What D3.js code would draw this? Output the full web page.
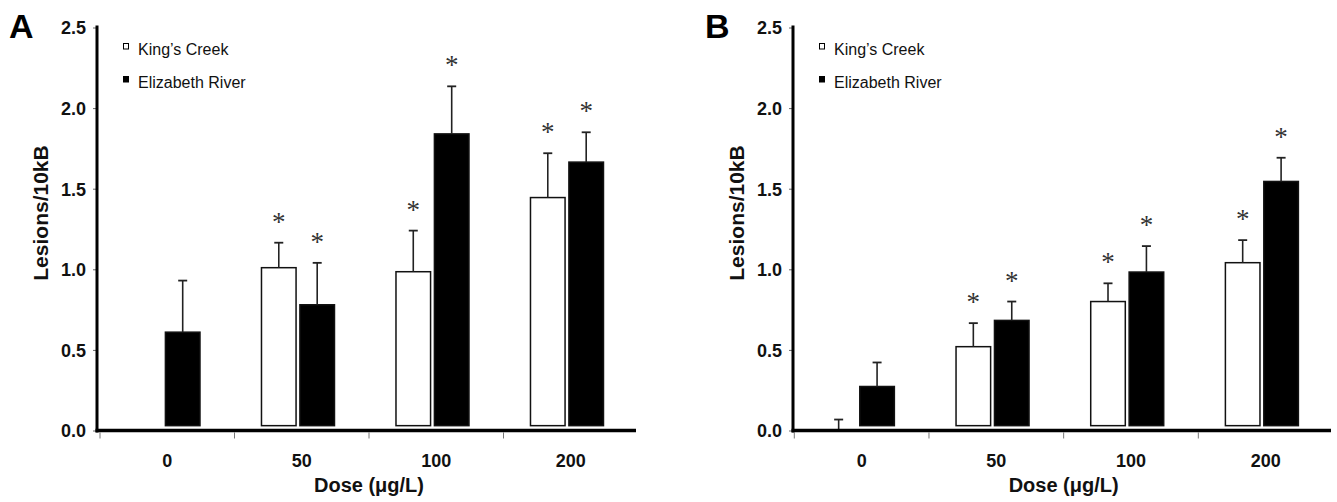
<!DOCTYPE html>
<html>
<head>
<meta charset="utf-8">
<script src="https://cdn.jsdelivr.net/npm/d3@7"></script>
<style>
  html, body { margin: 0; padding: 0; background: #fff; }
  svg { display: block; font-family: "Liberation Sans", Arial, sans-serif; }
</style>
</head>
<body>
<svg id="chart" width="1337" height="502"></svg>
<script>
// ---- data ----
const doses = ["0", "50", "100", "200"];
const seriesNames = ["King\u2019s Creek", "Elizabeth River"];
const yTicks = [0, 0.5, 1.0, 1.5, 2.0, 2.5];

// Panel A
const aKingsMean = [null, 1.01, 0.985, 1.445];
const aKingsErr  = [null, 0.155, 0.255, 0.275];
const aKingsSig  = [false, true, true, true];
const aElizMean  = [0.61, 0.78, 1.84, 1.665];
const aElizErr   = [0.32, 0.26, 0.295, 0.185];
const aElizSig   = [false, true, true, true];

// Panel B
const bKingsMean = [0, 0.52, 0.80, 1.041];
const bKingsErr  = [0.068, 0.146, 0.113, 0.14];
const bKingsSig  = [false, true, true, true];
const bElizMean  = [0.273, 0.683, 0.983, 1.545];
const bElizErr   = [0.149, 0.117, 0.161, 0.147];
const bElizSig   = [false, true, true, true];

const baseVal = 0.03; // bars rise from slightly above the axis line

const svg = d3.select("#chart");

function panel(opt) {
  const g = svg.append("g");
  const y = d3.scaleLinear().domain([0, 2.5]).range([430.5, 27.5]);
  const x = d3.scaleBand().domain(doses).range([opt.x0, opt.x1]).padding(0);
  const inner = d3.scaleBand().domain(seriesNames).range([-36.5, 36.5]).paddingInner(0.1);
  const groupCenter = d => x(d) + x.step() * 0.472;

  const rows = [];
  doses.forEach((d, i) => {
    rows.push({dose: d, s: seriesNames[0], m: opt.km[i], e: opt.ke[i], sig: opt.ks[i]});
    rows.push({dose: d, s: seriesNames[1], m: opt.em[i], e: opt.ee[i], sig: opt.es[i]});
  });
  const valid = rows.filter(r => r.m !== null);

  // bars
  g.selectAll("rect.bar").data(valid.filter(r => r.m > baseVal)).join("rect")
    .attr("class", "bar")
    .attr("x", r => groupCenter(r.dose) + inner(r.s))
    .attr("width", inner.bandwidth())
    .attr("y", r => y(r.m))
    .attr("height", r => y(baseVal) - y(r.m))
    .attr("fill", r => r.s === seriesNames[0] ? "#fff" : "#000")
    .attr("stroke", "#111")
    .attr("stroke-width", 1.5);

  // error bars (upper only)
  const eb = valid.filter(r => r.e !== null);
  const cx = r => groupCenter(r.dose) + inner(r.s) + inner.bandwidth() / 2;
  g.selectAll("line.err").data(eb).join("line")
    .attr("x1", cx).attr("x2", cx)
    .attr("y1", r => y(Math.max(r.m, 0)))
    .attr("y2", r => y(r.m + r.e))
    .attr("stroke", "#222").attr("stroke-width", 1.6);
  g.selectAll("line.cap").data(eb).join("line")
    .attr("x1", r => cx(r) - 4.5).attr("x2", r => cx(r) + 4.5)
    .attr("y1", r => y(r.m + r.e)).attr("y2", r => y(r.m + r.e))
    .attr("stroke", "#222").attr("stroke-width", 1.8);

  // significance asterisks
  g.selectAll("text.sig").data(eb.filter(r => r.sig)).join("text")
    .attr("x", cx)
    .attr("y", r => y(r.m + r.e) - 26 + 14)
    .attr("text-anchor", "middle")
    .attr("font-family", "Liberation Serif, 'Times New Roman', serif")
    .attr("font-size", 27)
    .attr("fill", "#333")
    .text("*");

  // y axis
  const yAxis = d3.axisLeft(y).tickValues(yTicks).tickFormat(d3.format(".1f")).tickSize(4).tickSizeOuter(0);
  const ya = g.append("g").attr("transform", `translate(${opt.ax},0)`).call(yAxis);
  ya.select(".domain").remove();
  ya.selectAll(".tick line").attr("stroke", "#666").attr("stroke-width", 1);
  ya.selectAll(".tick text")
    .attr("x", -11).attr("dy", "0.36em")
    .attr("font-size", 18).attr("font-weight", "bold")
    .attr("font-family", "Liberation Sans, Arial, sans-serif").attr("fill", "#111");
  g.append("line")
    .attr("x1", opt.ax).attr("x2", opt.ax)
    .attr("y1", y(2.5) - 2).attr("y2", y(0) + 2)
    .attr("stroke", "#000").attr("stroke-width", 3);

  // x axis: labels at band centres, ticks at band boundaries
  const xa = g.append("g").attr("transform", `translate(0,${y(0)})`)
    .call(d3.axisBottom(x).tickSize(0).tickSizeOuter(0));
  xa.select(".domain").remove();
  xa.selectAll(".tick text")
    .attr("y", 36).attr("dy", 0)
    .attr("font-size", 18).attr("font-weight", "bold")
    .attr("font-family", "Liberation Sans, Arial, sans-serif").attr("fill", "#111");
  g.selectAll("line.xt").data(doses).join("line")
    .attr("x1", d => x(d)).attr("x2", d => x(d))
    .attr("y1", y(0) + 2).attr("y2", y(0) + 8)
    .attr("stroke", "#777").attr("stroke-width", 1);
  g.append("line")
    .attr("x1", opt.ax - 1.5).attr("x2", opt.x1 - 2)
    .attr("y1", y(0)).attr("y2", y(0))
    .attr("stroke", "#000").attr("stroke-width", 3.5);

  // axis titles
  g.append("text")
    .attr("x", (opt.x0 + opt.x1) / 2).attr("y", 492)
    .attr("text-anchor", "middle").attr("font-size", 20).attr("font-weight", "bold").attr("fill", "#111")
    .text("Dose (\u03bcg/L)");
  g.append("text")
    .attr("transform", `translate(${opt.ax - 49},${213}) rotate(-90)`)
    .attr("text-anchor", "middle").attr("font-size", 21).attr("font-weight", "bold").attr("fill", "#111")
    .text("Lesions/10kB");

  // panel letter
  g.append("text")
    .attr("x", opt.ax - 88).attr("y", 38)
    .attr("font-size", 34).attr("font-weight", "bold").attr("fill", "#000")
    .text(opt.letter);

  // legend
  const lg = g.append("g").attr("transform", `translate(${opt.ax + 26},0)`);
  seriesNames.forEach((s, i) => {
    lg.append("rect")
      .attr("x", 0.5).attr("y", 43.5 + i * 33).attr("width", 5).attr("height", 5.5)
      .attr("fill", i === 0 ? "#fff" : "#000").attr("stroke", "#000").attr("stroke-width", 1);
    lg.append("text")
      .attr("x", 15).attr("y", 54.5 + i * 33)
      .attr("font-size", 16).attr("fill", "#111")
      .text(s);
  });
}

panel({letter: "A", ax: 97, x0: 100, x1: 638,
  km: aKingsMean, ke: aKingsErr, ks: aKingsSig, em: aElizMean, ee: aElizErr, es: aElizSig});
panel({letter: "B", ax: 793, x0: 794.3, x1: 1333,
  km: bKingsMean, ke: bKingsErr, ks: bKingsSig, em: bElizMean, ee: bElizErr, es: bElizSig});
</script>
</body>
</html>
